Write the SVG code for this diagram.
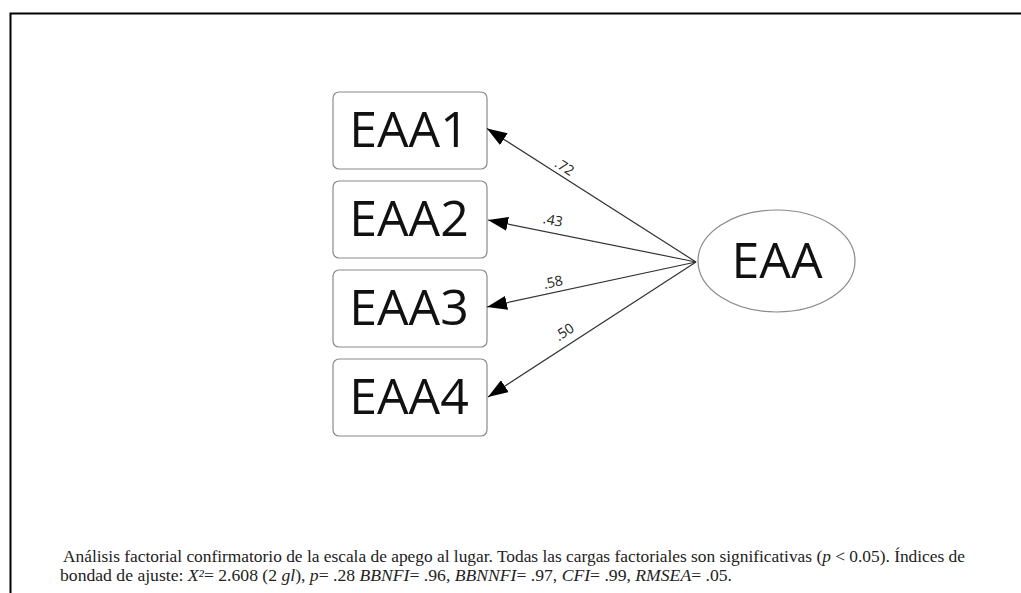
<svg xmlns="http://www.w3.org/2000/svg" width="1021" height="593" viewBox="0 0 1021 593">
<style>
.box{fill:#fff;stroke:#8a8a8a;stroke-width:1.2}
.lbl{font-family:"Open Sans",sans-serif;font-size:50px;fill:#111;text-anchor:middle}
.edge{stroke:#333;stroke-width:1.2;fill:none}
.ld{font-family:"Open Sans",sans-serif;font-size:14px;fill:#222;text-anchor:middle}
.cap{font-family:"Liberation Serif",serif;font-size:16px;fill:#222}
</style>
<defs>
<marker id="ah" viewBox="0 0 20 14" refX="20" refY="7" markerWidth="20" markerHeight="14" markerUnits="userSpaceOnUse" orient="auto">
<path d="M0,0 L20,7 L0,14 Z" fill="#000"/>
</marker>
</defs>
<rect width="1021" height="593" fill="#fff"/>
<path d="M10.5,593 V13.5 H1021" fill="none" stroke="#000" stroke-width="2"/>
<g id="EAA1"><rect class="box" x="333" y="92" width="154" height="77" rx="6"/><text class="lbl" x="409" y="147">EAA1</text></g>
<g id="EAA2"><rect class="box" x="333" y="181" width="154" height="77" rx="6"/><text class="lbl" x="409" y="236">EAA2</text></g>
<g id="EAA3"><rect class="box" x="333" y="270" width="154" height="77" rx="6"/><text class="lbl" x="409" y="325">EAA3</text></g>
<g id="EAA4"><rect class="box" x="333" y="359" width="154" height="77" rx="6"/><text class="lbl" x="409" y="414">EAA4</text></g>
<g id="EAA"><ellipse class="box" cx="776.5" cy="261" rx="78.5" ry="51"/><text class="lbl" x="777" y="278">EAA</text></g>
<g id="connectors">
<line class="edge" x1="696" y1="262" x2="487" y2="128.5" marker-end="url(#ah)"/>
<line class="edge" x1="696" y1="262" x2="488" y2="220" marker-end="url(#ah)"/>
<line class="edge" x1="696" y1="262" x2="487" y2="307" marker-end="url(#ah)"/>
<line class="edge" x1="696" y1="262" x2="488" y2="397" marker-end="url(#ah)"/>
<text class="ld" transform="translate(562,171) rotate(32.6)">.72</text>
<text class="ld" transform="translate(552,225) rotate(11.5)">.43</text>
<text class="ld" transform="translate(554,287) rotate(-12.2)">.58</text>
<text class="ld" transform="translate(567,336) rotate(-33.1)">.50</text>
</g>
<text class="cap" x="63" y="562" textLength="902" lengthAdjust="spacingAndGlyphs">Análisis factorial confirmatorio de la escala de apego al lugar. Todas las cargas factoriales son significativas (<tspan font-style="italic">p</tspan> &lt; 0.05). Índices de</text>
<text class="cap" x="60" y="581" textLength="672" lengthAdjust="spacingAndGlyphs">bondad de ajuste: <tspan font-style="italic">X²</tspan>= 2.608 (2 <tspan font-style="italic">gl</tspan>), <tspan font-style="italic">p</tspan>= .28 <tspan font-style="italic">BBNFI</tspan>= .96, <tspan font-style="italic">BBNNFI</tspan>= .97, <tspan font-style="italic">CFI</tspan>= .99,  <tspan font-style="italic">RMSEA</tspan>= .05.</text>
</svg>
